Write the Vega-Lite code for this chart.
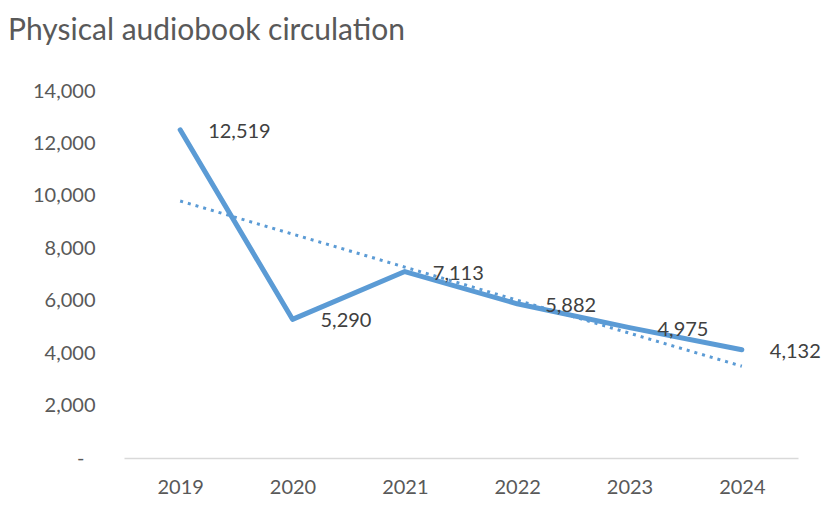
{
  "$schema": "https://vega.github.io/schema/vega-lite/v6.json",
  "width": 674,
  "height": 367,
  "autosize": "none",
  "padding": {"left": 124, "top": 91, "right": 27, "bottom": 61},
  "background": "white",
  "title": {
    "text": "Physical audiobook circulation",
    "anchor": "start",
    "frame": "group",
    "dx": -116,
    "offset": 11,
    "baseline": "alphabetic",
    "fontSize": 30,
    "font": "Lato",
    "fontWeight": "normal",
    "color": "#595959"
  },
  "config": {"view": {"stroke": null}, "font": "Lato"},
  "data": {
    "values": [
      {"year": 2019, "value": 12519},
      {"year": 2020, "value": 5290},
      {"year": 2021, "value": 7113},
      {"year": 2022, "value": 5882},
      {"year": 2023, "value": 4975},
      {"year": 2024, "value": 4132}
    ]
  },
  "encoding": {
    "x": {
      "field": "year",
      "type": "ordinal",
      "scale": {"type": "point", "padding": 0.5},
      "axis": {
        "title": null,
        "labelAngle": 0,
        "ticks": false,
        "grid": false,
        "domainColor": "#d9d9d9",
        "domainWidth": 1.5,
        "labelPadding": 19,
        "labelFontSize": 20,
        "labelFont": "Lato",
        "labelColor": "#595959"
      }
    },
    "y": {
      "field": "value",
      "type": "quantitative",
      "scale": {"domain": [0, 14000]},
      "axis": {
        "title": null,
        "ticks": false,
        "domain": false,
        "grid": false,
        "values": [0, 2000, 4000, 6000, 8000, 10000, 12000, 14000],
        "labelPadding": {"condition": {"test": "datum.value == 0", "value": 40}, "value": 29},
        "labelFontSize": 20,
        "labelFont": "Lato",
        "labelColor": "#595959",
        "labelExpr": "datum.value == 0 ? '-' : format(datum.value, ',')"
      }
    }
  },
  "layer": [
    {
      "mark": {"type": "line", "color": "#5B9BD5", "strokeWidth": 5, "strokeCap": "round", "strokeJoin": "round"}
    },
    {
      "transform": [{"regression": "value", "on": "year"}],
      "mark": {"type": "line", "color": "#5B9BD5", "strokeWidth": 3, "strokeDash": [3, 5]}
    },
    {
      "mark": {"type": "text", "align": "left", "baseline": "middle", "dx": 28, "dy": 2, "fontSize": 20, "font": "Lato", "color": "#404040"},
      "encoding": {"text": {"field": "value", "type": "quantitative", "format": ","}}
    }
  ]
}
